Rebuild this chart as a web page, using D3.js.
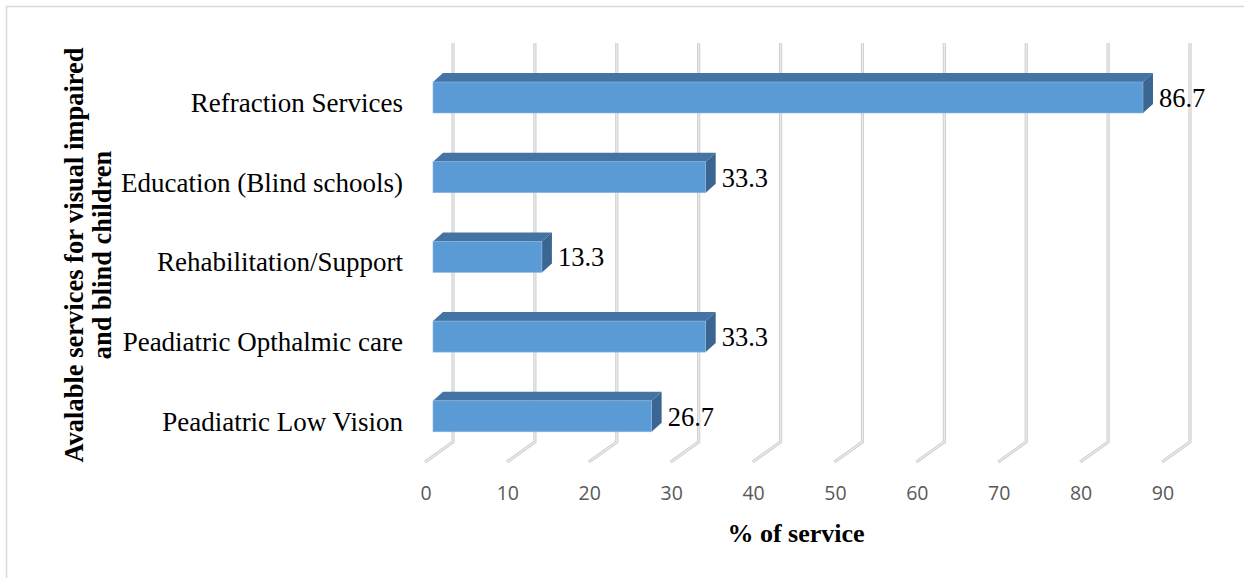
<!DOCTYPE html>
<html>
<head>
<meta charset="utf-8">
<script src="https://cdn.jsdelivr.net/npm/d3@7"></script>
<style>
  html, body { margin: 0; padding: 0; background: #fff; }
  svg { display: block; }
</style>
</head>
<body>
<svg id="chart" width="1244" height="578"></svg>
<script>
// Available services for visually impaired and blind children (% of service)
const categories = [
  "Refraction Services",
  "Education (Blind schools)",
  "Rehabilitation/Support",
  "Peadiatric Opthalmic care",
  "Peadiatric Low Vision"
];
const values = [86.7, 33.3, 13.3, 33.3, 26.7];
const tickValues = [0, 10, 20, 30, 40, 50, 60, 70, 80, 90];
const xTitle = "% of service";
const yTitleLines = ["Avalable services for visual impaired", "and blind children"];

const svg = d3.select("#chart");
const serif = "'Liberation Serif', 'Times New Roman', serif";

// Chart border (continues past the right and bottom edges)
svg.append("rect")
  .attr("x", 6.5).attr("y", 6.5)
  .attr("width", 1260).attr("height", 600)
  .attr("fill", "none").attr("stroke", "#d9d9d9").attr("stroke-width", 1.5);

// Value scale (length along the axis) and 3D depth offsets
const x = d3.scaleLinear().domain([0, 90]).range([0, 737]);
const floorFrontX = 425;   // front edge of the floor
const backWallX = 453;     // back wall where gridlines stand
const barFrontX = 433;     // front face of the bars
const wallTop = 43, wallBottom = 442;
const floorDX = -28, floorDY = 20;   // back wall -> front floor
const barDX = 10, barDY = -9;        // bar depth (front -> back)

const y = d3.scaleBand()
  .domain(categories)
  .range([57.65, 456.15])
  .paddingInner(0.611)
  .paddingOuter(0.3055);

// Gridlines: vertical on the back wall, then diagonal across the floor
const grid = svg.append("g");
tickValues.forEach(v => {
  const bx = backWallX + x(v);
  const pts = [[bx, wallTop], [bx, wallBottom], [bx + floorDX, wallBottom + floorDY]];
  const line = d3.line();
  grid.append("path").attr("d", line(pts))
    .attr("fill", "none").attr("stroke", "#cfcfcf").attr("stroke-width", 3.2)
    .attr("stroke-linejoin", "miter");
  grid.append("path").attr("d", line(pts))
    .attr("fill", "none").attr("stroke", "#ececec").attr("stroke-width", 1.2);
});

// Tick labels along the front edge of the floor
svg.append("g").selectAll("text")
  .data(tickValues).join("text")
  .attr("x", d => floorFrontX + x(d) + 1)
  .attr("y", 500)
  .attr("text-anchor", "middle")
  .attr("font-family", "'Open Sans', 'Noto Sans', sans-serif")
  .attr("font-size", 19.5)
  .attr("fill", "#595959")
  .text(d => d);

// 3D bars
const bars = svg.append("g").selectAll("g")
  .data(categories.map((c, i) => ({ c, v: values[i] })))
  .join("g");

bars.each(function(d) {
  const g = d3.select(this);
  const x0 = barFrontX, x1 = barFrontX + x(d.v);
  const y0 = y(d.c), y1 = y(d.c) + y.bandwidth();
  // top face
  g.append("path")
    .attr("d", `M${x0},${y0}L${x0 + barDX},${y0 + barDY}L${x1 + barDX},${y0 + barDY}L${x1},${y0}Z`)
    .attr("fill", "#4474a4");
  // side (end) face
  g.append("path")
    .attr("d", `M${x1},${y0}L${x1 + barDX},${y0 + barDY}L${x1 + barDX},${y1 + barDY}L${x1},${y1}Z`)
    .attr("fill", "#3b6691");
  // front face
  g.append("rect")
    .attr("x", x0).attr("y", y0)
    .attr("width", x1 - x0).attr("height", y1 - y0)
    .attr("fill", "#5b9bd5")
    .attr("stroke", "#8bb8e3").attr("stroke-width", 0.6);
  // value label
  g.append("text")
    .attr("x", x1 + barDX + 6)
    .attr("y", (y0 + y1) / 2 + 9.5)
    .attr("font-family", serif)
    .attr("font-size", 26.5)
    .attr("fill", "#000")
    .text(d.v.toFixed(1));
});

// Category labels
svg.append("g").selectAll("text")
  .data(categories).join("text")
  .attr("x", 403)
  .attr("y", d => y(d) + y.bandwidth() / 2 + 14.5)
  .attr("text-anchor", "end")
  .attr("font-family", serif)
  .attr("font-size", 27)
  .attr("fill", "#000")
  .text(d => d);

// Axis titles
svg.append("text")
  .attr("x", 796).attr("y", 542)
  .attr("text-anchor", "middle")
  .attr("font-family", serif)
  .attr("font-weight", "bold")
  .attr("font-size", 26)
  .text(xTitle);

const yt = svg.append("g").attr("transform", "translate(0,255) rotate(-90)");
yTitleLines.forEach((t, i) => {
  yt.append("text")
    .attr("x", 0).attr("y", 83 + i * 28)
    .attr("text-anchor", "middle")
    .attr("font-family", serif)
    .attr("font-weight", "bold")
    .attr("font-size", 26.5)
    .text(t);
});
</script>
</body>
</html>
